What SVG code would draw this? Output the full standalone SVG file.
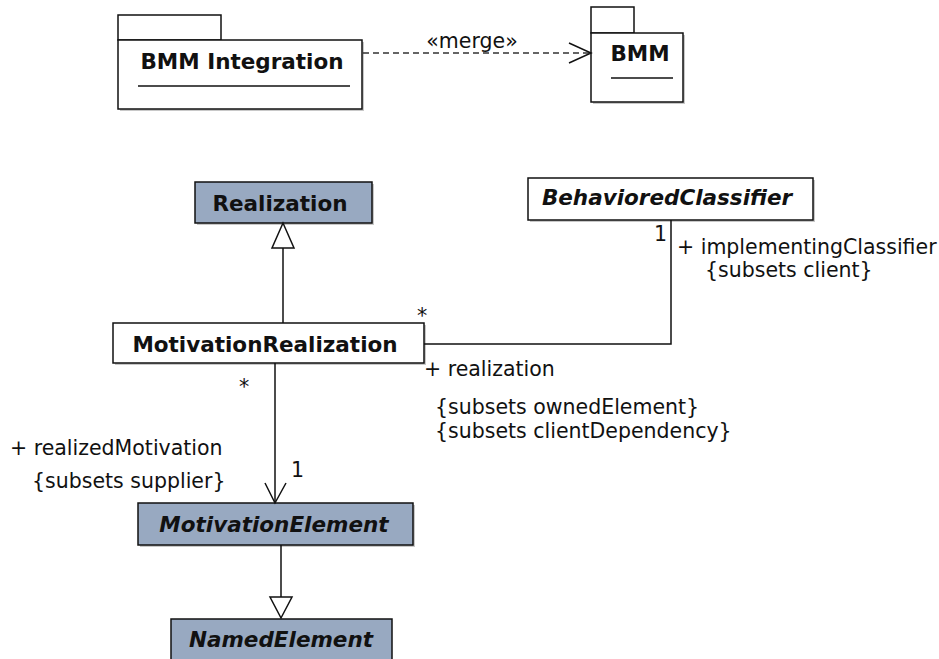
<svg xmlns="http://www.w3.org/2000/svg" width="939" height="659" viewBox="0 0 939 659">
<style>
  .bg{fill:#ffffff}
  .box{fill:#ffffff;stroke:#111;stroke-width:1.5}
  .shade{fill:#98a9c1;stroke:#111;stroke-width:1.5}
  .shadow{fill:#c8c8c8;stroke:none}
  .title{font-family:"DejaVu Sans",Verdana,sans-serif;font-weight:bold;font-size:21.5px;fill:#111;text-anchor:middle}
  .ital{font-style:italic}
  .lbl{font-family:"DejaVu Sans",Verdana,sans-serif;font-size:20.5px;fill:#111}
  .line{fill:none;stroke:#111;stroke-width:1.5}
  .dash{fill:none;stroke:#333;stroke-width:1.5;stroke-dasharray:6 4}
  .tri{fill:#ffffff;stroke:#111;stroke-width:1.5}
</style>
<rect class="bg" x="0" y="0" width="939" height="659"/>

<g id="pkg-bmm-integration">
  <rect class="shadow" x="120" y="42" width="244" height="69"/>
  <rect class="box" x="118" y="15" width="103" height="25"/>
  <rect class="box" x="118" y="40" width="244" height="69"/>
  <text class="title" x="242" y="69">BMM Integration</text>
  <line class="line" x1="138" y1="86" x2="350" y2="86"/>
</g>

<g id="pkg-bmm">
  <rect class="shadow" x="593" y="35" width="92" height="69"/>
  <rect class="box" x="591" y="7" width="43" height="26"/>
  <rect class="box" x="591" y="33" width="92" height="69"/>
  <text class="title" x="640" y="61">BMM</text>
  <line class="line" x1="611" y1="78" x2="673" y2="78"/>
</g>

<g id="node-realization">
  <rect class="shadow" x="197" y="184" width="177" height="41"/>
  <rect class="shade" x="195" y="182" width="177" height="41"/>
  <text class="title" x="280" y="211">Realization</text>
</g>

<g id="node-behavioredclassifier">
  <rect class="shadow" x="530" y="180" width="285" height="42"/>
  <rect class="box" x="528" y="178" width="285" height="42"/>
  <text class="title ital" x="667" y="205">BehavioredClassifier</text>
</g>

<g id="node-motivationrealization">
  <rect class="shadow" x="115" y="325" width="311" height="40"/>
  <rect class="box" x="113" y="323" width="311" height="40"/>
  <text class="title" x="265" y="352">MotivationRealization</text>
</g>

<g id="node-motivationelement">
  <rect class="shadow" x="140" y="505" width="275" height="42"/>
  <rect class="shade" x="138" y="503" width="275" height="42"/>
  <text class="title ital" x="274" y="532">MotivationElement</text>
</g>

<g id="node-namedelement">
  <rect class="shade" x="171" y="619" width="221" height="48"/>
  <text class="title ital" x="281" y="647">NamedElement</text>
</g>

<g id="connectors">
  <g id="merge">
    <line class="dash" x1="363" y1="53" x2="590" y2="53"/>
    <polyline class="line" points="569,43 591,53 569,63"/>
    <text class="lbl" x="472" y="48" text-anchor="middle" font-size="19">«merge»</text>
  </g>
  <g id="gen-mr-realization">
    <line class="line" x1="283" y1="323" x2="283" y2="248"/>
    <polygon class="tri" points="283,223 272,248 294,248"/>
  </g>
  <g id="assoc-mr-bc">
    <polyline class="line" points="424,344 671,344 671,220"/>
    <text class="lbl" x="417" y="323">*</text>
    <text class="lbl" x="654" y="241">1</text>
    <text class="lbl" x="677" y="254">+ implementingClassifier</text>
    <text class="lbl" x="705" y="277">{subsets client}</text>
    <text class="lbl" x="424" y="376">+ realization</text>
    <text class="lbl" x="435" y="414">{subsets ownedElement}</text>
    <text class="lbl" x="435" y="438">{subsets clientDependency}</text>
  </g>
  <g id="assoc-mr-me">
    <line class="line" x1="275" y1="363" x2="275" y2="502"/>
    <polyline class="line" points="265,483 275,503 286,483"/>
    <text class="lbl" x="239" y="394">*</text>
    <text class="lbl" x="291" y="477">1</text>
    <text class="lbl" x="10" y="455">+ realizedMotivation</text>
    <text class="lbl" x="32" y="488">{subsets supplier}</text>
  </g>
  <g id="gen-me-ne">
    <line class="line" x1="281" y1="545" x2="281" y2="597"/>
    <polygon class="tri" points="281,618 270,597 292,597"/>
  </g>
</g>
</svg>
